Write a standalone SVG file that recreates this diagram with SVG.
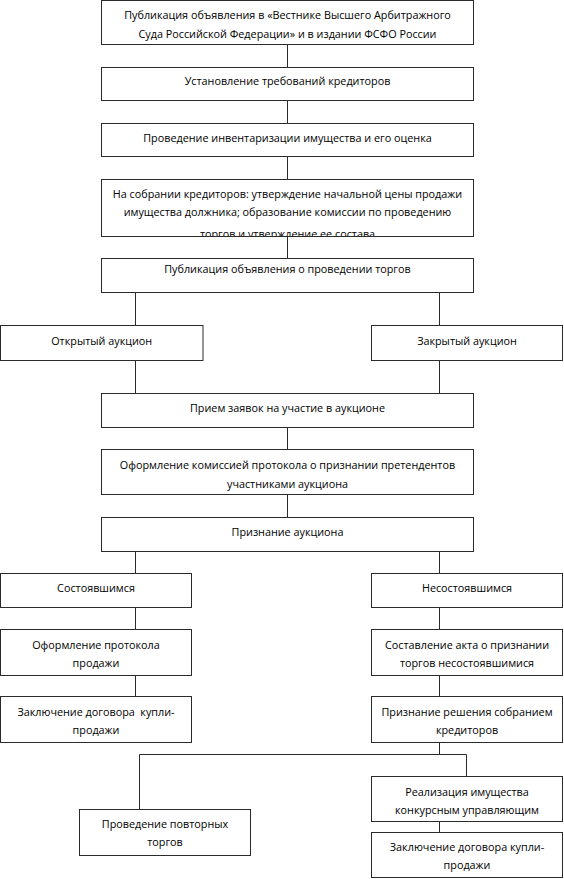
<svg xmlns="http://www.w3.org/2000/svg" width="564" height="879" viewBox="0 0 564 879">
<style>
  rect.b { fill: #ffffff; stroke: #2b2b2b; stroke-width: 1; }
  .c line, .c polyline { stroke: #2b2b2b; stroke-width: 1; fill: none; }
  text { font-family: "Open Sans", "Noto Sans", "Liberation Sans", sans-serif; font-size: 10.8px; fill: #000; text-anchor: middle; }
</style>
<defs>
  <clipPath id="clip4"><rect x="101.5" y="179.5" width="372" height="56.5"/></clipPath>
</defs>
<rect x="0" y="0" width="564" height="879" fill="#ffffff"/>
<g class="c" id="connectors">
  <line x1="287.5" y1="44.5" x2="287.5" y2="67.5"/>
  <line x1="287.5" y1="100.5" x2="287.5" y2="123.5"/>
  <line x1="287.5" y1="156.5" x2="287.5" y2="179.5"/>
  <line x1="287.5" y1="236.5" x2="287.5" y2="258.5"/>
  <line x1="135.5" y1="292.5" x2="135.5" y2="325.5"/>
  <line x1="439.5" y1="292.5" x2="439.5" y2="325.5"/>
  <line x1="135.5" y1="360.5" x2="135.5" y2="393.5"/>
  <line x1="439.5" y1="360.5" x2="439.5" y2="393.5"/>
  <line x1="287.5" y1="427.5" x2="287.5" y2="449.5"/>
  <line x1="287.5" y1="494.5" x2="287.5" y2="517.5"/>
  <line x1="135.5" y1="551.5" x2="135.5" y2="573.5"/>
  <line x1="439.5" y1="551.5" x2="439.5" y2="573.5"/>
  <line x1="135.5" y1="607.5" x2="135.5" y2="629.5"/>
  <line x1="439.5" y1="607.5" x2="439.5" y2="629.5"/>
  <line x1="135.5" y1="675.5" x2="135.5" y2="696.5"/>
  <line x1="439.5" y1="675.5" x2="439.5" y2="696.5"/>
  <line x1="439.5" y1="742.5" x2="439.5" y2="754.5"/>
  <polyline points="139.5,809.5 139.5,754.5 466.5,754.5 466.5,776.5"/>
  <line x1="439.5" y1="821.5" x2="439.5" y2="832.5"/>
</g>
<g id="n1"><rect class="b" x="101.5" y="0.5" width="372" height="44"/>
  <text x="287.5" y="19">Публикация объявления в «Вестнике Высшего Арбитражного</text>
  <text x="287.5" y="37.5">Суда Российской Федерации» и в издании ФСФО России</text></g>
<g id="n2"><rect class="b" x="101.5" y="67.5" width="372" height="33"/>
  <text x="287.5" y="85">Установление требований кредиторов</text></g>
<g id="n3"><rect class="b" x="101.5" y="123.5" width="372" height="33"/>
  <text x="287.5" y="141.5">Проведение инвентаризации имущества и его оценка</text></g>
<g id="n4"><rect class="b" x="101.5" y="179.5" width="372" height="57"/>
  <text x="287.5" y="197.5">На собрании кредиторов: утверждение начальной цены продажи</text>
  <text x="287.5" y="216">имущества должника; образование комиссии по проведению</text>
  <text x="287.5" y="237.5" clip-path="url(#clip4)">торгов и утверждение ее состава</text></g>
<g id="n5"><rect class="b" x="101.5" y="258.5" width="372" height="34"/>
  <text x="287.5" y="272.5">Публикация объявления о проведении торгов</text></g>
<g id="n6"><rect class="b" x="0.5" y="325.5" width="202.5" height="35"/>
  <text x="101.7" y="344.5">Открытый аукцион</text></g>
<g id="n7"><rect class="b" x="371.5" y="325.5" width="191" height="35"/>
  <text x="467" y="344.5">Закрытый аукцион</text></g>
<g id="n8"><rect class="b" x="101.5" y="393.5" width="372" height="34"/>
  <text x="287.5" y="412">Прием заявок на участие в аукционе</text></g>
<g id="n9"><rect class="b" x="101.5" y="449.5" width="372" height="45"/>
  <text x="287.5" y="469">Оформление комиссией протокола о признании претендентов</text>
  <text x="287.5" y="487.5">участниками аукциона</text></g>
<g id="n10"><rect class="b" x="101.5" y="517.5" width="372" height="34"/>
  <text x="287.5" y="535.5">Признание аукциона</text></g>
<g id="n11"><rect class="b" x="0.5" y="573.5" width="191" height="34"/>
  <text x="96" y="592">Состоявшимся</text></g>
<g id="n12"><rect class="b" x="371.5" y="573.5" width="191" height="34"/>
  <text x="467" y="592">Несостоявшимся</text></g>
<g id="n13"><rect class="b" x="0.5" y="629.5" width="191" height="46"/>
  <text x="96" y="648.5">Оформление протокола</text>
  <text x="96" y="667">продажи</text></g>
<g id="n14"><rect class="b" x="371.5" y="629.5" width="191" height="46"/>
  <text x="467" y="648.5">Составление акта о признании</text>
  <text x="467" y="667">торгов несостоявшимися</text></g>
<g id="n15"><rect class="b" x="0.5" y="696.5" width="191" height="46"/>
  <text x="96" y="715.5" style="white-space:pre">Заключение договора  купли-</text>
  <text x="96" y="734">продажи</text></g>
<g id="n16"><rect class="b" x="371.5" y="696.5" width="191" height="46"/>
  <text x="467" y="715.5">Признание решения собранием</text>
  <text x="467" y="734">кредиторов</text></g>
<g id="n17"><rect class="b" x="371.5" y="776.5" width="191" height="45"/>
  <text x="467" y="795.5">Реализация имущества</text>
  <text x="467" y="814">конкурсным управляющим</text></g>
<g id="n18"><rect class="b" x="79.5" y="809.5" width="171" height="46"/>
  <text x="165" y="827.5">Проведение повторных</text>
  <text x="165" y="846">торгов</text></g>
<g id="n19"><rect class="b" x="371.5" y="832.5" width="191" height="45"/>
  <text x="467" y="850.5">Заключение договора купли-</text>
  <text x="467" y="869">продажи</text></g>
</svg>
